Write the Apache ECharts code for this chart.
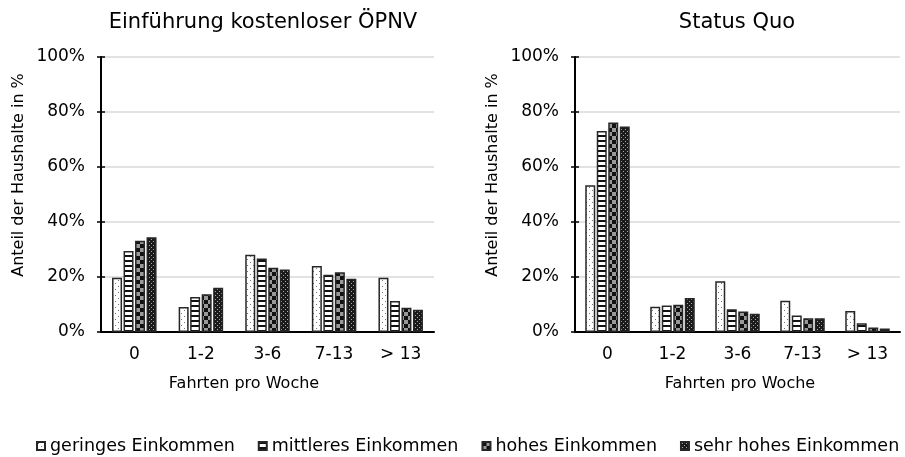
<!DOCTYPE html>
<html>
<head>
<meta charset="utf-8">
<script src="https://cdn.jsdelivr.net/npm/echarts@6/dist/echarts.min.js"></script>
<style>
html, body { margin: 0; padding: 0; background: #fff; }
#chart { width: 905px; height: 457px; }
</style>
</head>
<body>
<div id="chart"></div>
<script>
var categories = ['0', '1-2', '3-6', '7-13', '> 13'];
var groups = ['geringes Einkommen', 'mittleres Einkommen', 'hohes Einkommen', 'sehr hohes Einkommen'];

// Einführung kostenloser ÖPNV (Anteil in %)
var freeGering = [19.7, 9.1, 28.1, 24.0, 19.7];
var freeMittel = [29.5, 12.7, 26.7, 20.8, 11.3];
var freeHoch = [33.2, 13.7, 23.4, 21.7, 8.8];
var freeSehrHoch = [34.5, 16.1, 22.7, 19.4, 8.1];

// Status Quo (Anteil in %)
var quoGering = [53.4, 9.2, 18.5, 11.4, 7.6];
var quoMittel = [73.1, 9.6, 8.3, 6.0, 3.2];
var quoHoch = [76.2, 9.9, 7.5, 5.0, 1.6];
var quoSehrHoch = [74.7, 12.4, 6.6, 5.0, 1.3];

var FONT = 'DejaVu Sans';

// Schraffuren als Canvas-Muster
function pattern(kind) {
    var c = document.createElement('canvas');
    var ctx = c.getContext('2d');
    if (kind === 0) {
        c.width = 6; c.height = 6;
        ctx.fillStyle = '#fff'; ctx.fillRect(0, 0, 6, 6);
        ctx.fillStyle = '#777';
        ctx.fillRect(1, 1, 1, 1); ctx.fillRect(4, 4, 1, 1);
    } else if (kind === 1) {
        c.width = 4; c.height = 5;
        ctx.fillStyle = '#fff'; ctx.fillRect(0, 0, 4, 5);
        ctx.fillStyle = '#111'; ctx.fillRect(0, 0, 4, 2);
    } else if (kind === 2) {
        c.width = 8; c.height = 8;
        ctx.fillStyle = '#999'; ctx.fillRect(0, 0, 8, 8);
        ctx.fillStyle = '#111';
        ctx.fillRect(0, 0, 4, 4); ctx.fillRect(4, 4, 4, 4);
    } else {
        c.width = 4; c.height = 4;
        ctx.fillStyle = '#1a1a1a'; ctx.fillRect(0, 0, 4, 4);
        ctx.fillStyle = '#aaa';
        ctx.fillRect(1, 1, 1, 1); ctx.fillRect(3, 3, 1, 1);
    }
    return { image: c, repeat: 'repeat' };
}

var fills = [pattern(0), pattern(1), pattern(2), pattern(3)];
var freeData = [freeGering, freeMittel, freeHoch, freeSehrHoch];
var quoData = [quoGering, quoMittel, quoHoch, quoSehrHoch];

var chart = echarts.init(document.getElementById('chart'));

function xAxisFor(grid) {
    return {
        type: 'category',
        gridIndex: grid,
        data: categories,
        axisLine: { lineStyle: { color: '#000', width: 2 } },
        axisTick: { show: false },
        axisLabel: { color: '#000', fontFamily: FONT, fontSize: 17, margin: 14 }
    };
}

// inside = zweite Achse nur fuer die nach innen zeigenden Striche
function yAxisFor(grid, inside) {
    return {
        type: 'value',
        gridIndex: grid,
        position: 'left',
        min: 0, max: 100, interval: 20,
        axisLine: { show: !inside, lineStyle: { color: '#000', width: 2 } },
        axisTick: { show: true, inside: inside, length: 4, lineStyle: { color: '#000', width: 1.5 } },
        axisLabel: { show: !inside, color: '#000', fontFamily: FONT, fontSize: 17, margin: 16,
                     formatter: '{value}%' },
        splitLine: { show: !inside, lineStyle: { color: '#d9d9d9', width: 1.5 } }
    };
}

var series = [];
[freeData, quoData].forEach(function (set, gi) {
    set.forEach(function (vals, i) {
        series.push({
            name: groups[i],
            type: 'bar',
            xAxisIndex: gi,
            yAxisIndex: gi,
            data: vals,
            barWidth: 10,
            barGap: '15%',
            itemStyle: { color: fills[i], borderColor: '#262626', borderWidth: 1.5 },
            emphasis: { disabled: true }
        });
    });
});

chart.setOption({
    animation: false,
    textStyle: { fontFamily: FONT },
    title: [
        { text: 'Einführung kostenloser ÖPNV', left: 258, top: 7, textAlign: 'center',
          textStyle: { fontFamily: FONT, fontSize: 21, fontWeight: 'normal', color: '#000' } },
        { text: 'Status Quo', left: 732, top: 7, textAlign: 'center',
          textStyle: { fontFamily: FONT, fontSize: 21, fontWeight: 'normal', color: '#000' } }
    ],
    legend: {
        data: groups,
        left: 36, top: 437, width: 869,
        padding: 0,
        itemWidth: 8, itemHeight: 8, itemGap: 23,
        icon: 'rect',
        textStyle: { fontFamily: FONT, fontSize: 17.5, color: '#000' }
    },
    grid: [
        { left: 101, top: 57, width: 333, height: 275 },
        { left: 575, top: 57, width: 325, height: 275 }
    ],
    xAxis: [xAxisFor(0), xAxisFor(1)],
    yAxis: [yAxisFor(0, false), yAxisFor(1, false), yAxisFor(0, true), yAxisFor(1, true)],
    graphic: [
        { type: 'text', x: 19, y: 175, rotation: Math.PI / 2,
          style: { text: 'Anteil der Haushalte in %', fontFamily: FONT, fontSize: 16, fill: '#000',
                   textAlign: 'center', textVerticalAlign: 'middle' } },
        { type: 'text', x: 493, y: 175, rotation: Math.PI / 2,
          style: { text: 'Anteil der Haushalte in %', fontFamily: FONT, fontSize: 16, fill: '#000',
                   textAlign: 'center', textVerticalAlign: 'middle' } },
        { type: 'text', x: 244, y: 384,
          style: { text: 'Fahrten pro Woche', fontFamily: FONT, fontSize: 16, fill: '#000',
                   textAlign: 'center', textVerticalAlign: 'middle' } },
        { type: 'text', x: 740, y: 384,
          style: { text: 'Fahrten pro Woche', fontFamily: FONT, fontSize: 16, fill: '#000',
                   textAlign: 'center', textVerticalAlign: 'middle' } }
    ],
    series: series
});
</script>
</body>
</html>
